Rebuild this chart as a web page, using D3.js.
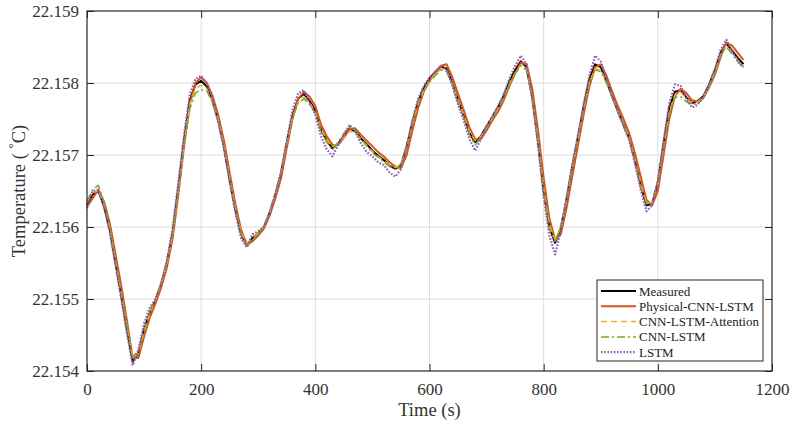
<!DOCTYPE html>
<html>
<head>
<meta charset="utf-8">
<script src="https://cdn.jsdelivr.net/npm/d3@7"></script>
<style>
  body { margin: 0; background: #fff; }
  svg, svg text { font-family: "Liberation Serif", "Times New Roman", "DejaVu Serif", serif; }
</style>
</head>
<body>
<svg id="chart"></svg>
<script>
// time axis (s), one sample every 10 s
const time = d3.range(0, 1151, 10);

const measured = [
  22.15631, 22.15645, 22.15650, 22.15628, 22.15596, 22.15550, 22.15505, 22.15458, 22.15413, 22.15425,
  22.15458, 22.15481, 22.15498, 22.15520, 22.15550, 22.15592, 22.15655, 22.15720, 22.15776, 22.15798,
  22.15803, 22.15795, 22.15775, 22.15748, 22.15711, 22.15665, 22.15624, 22.15590, 22.15575, 22.15585,
  22.15591, 22.15600, 22.15620, 22.15645, 22.15675, 22.15717, 22.15755, 22.15778, 22.15785, 22.15775,
  22.15762, 22.15735, 22.15720, 22.15709, 22.15716, 22.15726, 22.15737, 22.15733, 22.15723, 22.15715,
  22.15706, 22.15699, 22.15693, 22.15685, 22.15681, 22.15685, 22.15712, 22.15745, 22.15774, 22.15793,
  22.15806, 22.15815, 22.15823, 22.15820, 22.15800, 22.15776, 22.15754, 22.15730, 22.15718, 22.15726,
  22.15740, 22.15752, 22.15766, 22.15782, 22.15802, 22.15818, 22.15830, 22.15822, 22.15780, 22.15720,
  22.15650, 22.15600, 22.15578, 22.15598, 22.15638, 22.15683, 22.15724, 22.15767, 22.15805, 22.15826,
  22.15822, 22.15803, 22.15781, 22.15761, 22.15742, 22.15723, 22.15692, 22.15658, 22.15630, 22.15632,
  22.15662, 22.15715, 22.15765, 22.15788, 22.15790, 22.15780, 22.15772, 22.15775, 22.15782, 22.15798,
  22.15818, 22.15842, 22.15855, 22.15845, 22.15835, 22.15826
];

const physicalCnnLstm = [
  22.15628, 22.15640, 22.15652, 22.15635, 22.15605, 22.15562, 22.15518, 22.15470, 22.15418, 22.15418,
  22.15448, 22.15474, 22.15494, 22.15516, 22.15544, 22.15584, 22.15645, 22.15712, 22.15770, 22.15800,
  22.15808, 22.15800, 22.15782, 22.15755, 22.15720, 22.15675, 22.15632, 22.15596, 22.15576, 22.15580,
  22.15588, 22.15598, 22.15616, 22.15640, 22.15668, 22.15710, 22.15750, 22.15778, 22.15788, 22.15781,
  22.15768, 22.15742, 22.15726, 22.15714, 22.15714, 22.15724, 22.15736, 22.15737, 22.15728, 22.15720,
  22.15712, 22.15704, 22.15698, 22.15690, 22.15684, 22.15682, 22.15700, 22.15734, 22.15765, 22.15788,
  22.15803, 22.15814, 22.15824, 22.15826, 22.15808, 22.15785, 22.15762, 22.15738, 22.15722, 22.15722,
  22.15734, 22.15748, 22.15760, 22.15776, 22.15796, 22.15813, 22.15828, 22.15826, 22.15792, 22.15735,
  22.15668, 22.15612, 22.15582, 22.15590, 22.15626, 22.15670, 22.15713, 22.15756, 22.15795, 22.15822,
  22.15826, 22.15810, 22.15788, 22.15768, 22.15750, 22.15730, 22.15702, 22.15670, 22.15638, 22.15630,
  22.15650, 22.15700, 22.15750, 22.15782, 22.15792, 22.15786, 22.15776, 22.15774, 22.15780, 22.15794,
  22.15812, 22.15836, 22.15856, 22.15852, 22.15842, 22.15832
];

const cnnLstmAttention = [
  22.15634, 22.15648, 22.15650, 22.15630, 22.15598, 22.15553, 22.15508, 22.15462, 22.15418, 22.15424,
  22.15455, 22.15480, 22.15499, 22.15521, 22.15549, 22.15590, 22.15652, 22.15716, 22.15770, 22.15792,
  22.15797, 22.15792, 22.15774, 22.15749, 22.15713, 22.15668, 22.15626, 22.15592, 22.15578, 22.15584,
  22.15592, 22.15601, 22.15621, 22.15646, 22.15676, 22.15716, 22.15752, 22.15774, 22.15780, 22.15773,
  22.15760, 22.15736, 22.15721, 22.15712, 22.15716, 22.15725, 22.15733, 22.15731, 22.15722, 22.15714,
  22.15705, 22.15698, 22.15692, 22.15686, 22.15683, 22.15686, 22.15710, 22.15743, 22.15772, 22.15790,
  22.15803, 22.15812, 22.15819, 22.15817, 22.15799, 22.15776, 22.15755, 22.15731, 22.15720, 22.15726,
  22.15739, 22.15751, 22.15765, 22.15780, 22.15799, 22.15814, 22.15825, 22.15819, 22.15780, 22.15722,
  22.15654, 22.15603, 22.15582, 22.15599, 22.15637, 22.15681, 22.15722, 22.15764, 22.15800, 22.15820,
  22.15818, 22.15802, 22.15781, 22.15761, 22.15743, 22.15724, 22.15694, 22.15660, 22.15634, 22.15634,
  22.15660, 22.15712, 22.15760, 22.15784, 22.15787, 22.15779, 22.15772, 22.15774, 22.15781, 22.15797,
  22.15816, 22.15840, 22.15852, 22.15843, 22.15832, 22.15823
];

const cnnLstm = [
  22.15636, 22.15652, 22.15658, 22.15633, 22.15600, 22.15552, 22.15506, 22.15462, 22.15420, 22.15428,
  22.15456, 22.15483, 22.15500, 22.15523, 22.15552, 22.15590, 22.15650, 22.15712, 22.15764, 22.15786,
  22.15791, 22.15789, 22.15772, 22.15746, 22.15710, 22.15666, 22.15625, 22.15590, 22.15573, 22.15582,
  22.15590, 22.15602, 22.15622, 22.15648, 22.15678, 22.15718, 22.15752, 22.15772, 22.15778, 22.15770,
  22.15758, 22.15733, 22.15718, 22.15707, 22.15718, 22.15730, 22.15740, 22.15734, 22.15722, 22.15712,
  22.15703, 22.15697, 22.15690, 22.15684, 22.15680, 22.15688, 22.15714, 22.15746, 22.15774, 22.15790,
  22.15801, 22.15810, 22.15818, 22.15816, 22.15798, 22.15774, 22.15752, 22.15728, 22.15714, 22.15724,
  22.15738, 22.15750, 22.15764, 22.15779, 22.15798, 22.15813, 22.15824, 22.15818, 22.15778, 22.15718,
  22.15648, 22.15598, 22.15580, 22.15601, 22.15640, 22.15684, 22.15724, 22.15765, 22.15801, 22.15818,
  22.15816, 22.15800, 22.15780, 22.15760, 22.15742, 22.15722, 22.15690, 22.15656, 22.15632, 22.15636,
  22.15664, 22.15712, 22.15758, 22.15780, 22.15781, 22.15774, 22.15770, 22.15772, 22.15779, 22.15795,
  22.15814, 22.15838, 22.15850, 22.15840, 22.15830, 22.15821
];

const lstm = [
  22.15626, 22.15650, 22.15652, 22.15628, 22.15592, 22.15546, 22.15500, 22.15452, 22.15408, 22.15430,
  22.15466, 22.15488, 22.15500, 22.15522, 22.15554, 22.15598, 22.15662, 22.15728, 22.15784, 22.15806,
  22.15810, 22.15798, 22.15776, 22.15746, 22.15708, 22.15662, 22.15620, 22.15584, 22.15572, 22.15590,
  22.15594, 22.15600, 22.15618, 22.15644, 22.15676, 22.15720, 22.15762, 22.15786, 22.15790, 22.15772,
  22.15756, 22.15726, 22.15708, 22.15698, 22.15714, 22.15728, 22.15742, 22.15732, 22.15716, 22.15704,
  22.15698, 22.15690, 22.15686, 22.15676, 22.15670, 22.15680, 22.15712, 22.15748, 22.15778, 22.15796,
  22.15808, 22.15816, 22.15824, 22.15818, 22.15796, 22.15770, 22.15748, 22.15722, 22.15706, 22.15722,
  22.15740, 22.15754, 22.15768, 22.15784, 22.15806, 22.15824, 22.15838, 22.15826, 22.15778, 22.15714,
  22.15642, 22.15588, 22.15562, 22.15594, 22.15640, 22.15686, 22.15728, 22.15770, 22.15810, 22.15838,
  22.15830, 22.15806, 22.15782, 22.15760, 22.15740, 22.15720, 22.15688, 22.15652, 22.15622, 22.15630,
  22.15664, 22.15720, 22.15772, 22.15798, 22.15796, 22.15778, 22.15766, 22.15770, 22.15780, 22.15798,
  22.15820, 22.15846, 22.15860, 22.15844, 22.15830, 22.15822
];

const seriesNames = ["Measured", "Physical-CNN-LSTM", "CNN-LSTM-Attention", "CNN-LSTM", "LSTM"];
const xTicks = [0, 200, 400, 600, 800, 1000, 1200];
const yTicks = [22.154, 22.155, 22.156, 22.157, 22.158, 22.159];

const width = 794, height = 426,
  margin = {top: 11, right: 22, bottom: 55, left: 87};
const innerW = width - margin.left - margin.right,
  innerH = height - margin.top - margin.bottom;
const serif = "'Liberation Serif', 'Times New Roman', 'DejaVu Serif', serif";

const series = [
  {name: seriesNames[0], values: measured, color: "#000000", width: 2, dash: null},
  {name: seriesNames[1], values: physicalCnnLstm, color: "#D95319", width: 2, dash: null},
  {name: seriesNames[2], values: cnnLstmAttention, color: "#EDB120", width: 1.5, dash: "6,4"},
  {name: seriesNames[3], values: cnnLstm, color: "#77AC30", width: 1.5, dash: "8,3,2,3"},
  {name: seriesNames[4], values: lstm, color: "#8E5BC2", width: 2.2, dash: "1.6,1.6"}
];

const svg = d3.select("#chart").attr("width", width).attr("height", height)
  .attr("font-family", serif);
const g = svg.append("g").attr("transform", `translate(${margin.left},${margin.top})`);

const x = d3.scaleLinear().domain([0, 1200]).range([0, innerW]);
const y = d3.scaleLinear().domain([22.154, 22.159]).range([innerH, 0]);

// grid
g.append("g").selectAll("line").data(xTicks.slice(1, -1)).enter().append("line")
  .attr("x1", d => x(d)).attr("x2", d => x(d)).attr("y1", 0).attr("y2", innerH)
  .attr("stroke", "#dedede").attr("stroke-width", 1);
g.append("g").selectAll("line").data(yTicks.slice(1, -1)).enter().append("line")
  .attr("y1", d => y(d)).attr("y2", d => y(d)).attr("x1", 0).attr("x2", innerW)
  .attr("stroke", "#dedede").attr("stroke-width", 1);

// lines
const line = d3.line().x((d, i) => x(time[i])).y(d => y(d));
series.forEach(s => {
  g.append("path")
    .datum(s.values)
    .attr("fill", "none")
    .attr("stroke", s.color)
    .attr("stroke-width", s.width)
    .attr("stroke-dasharray", s.dash)
    .attr("stroke-linejoin", "round")
    .attr("d", line);
});

// axes, ticks pointing inward on all four sides
const axisColor = "#262626";
const fmtY = d3.format(".3f");
const fmtX = d3.format("d");
g.append("g").attr("class", "ax").attr("transform", `translate(0,${innerH})`)
  .call(d3.axisBottom(x).tickValues(xTicks).tickFormat(fmtX).tickSizeInner(-7).tickSizeOuter(0).tickPadding(12));
g.append("g").attr("class", "ax")
  .call(d3.axisLeft(y).tickValues(yTicks).tickFormat(fmtY).tickSizeInner(-7).tickSizeOuter(0).tickPadding(8));
g.append("g").attr("class", "ax")
  .call(d3.axisTop(x).tickValues(xTicks).tickSizeInner(-7).tickSizeOuter(0).tickFormat(""));
g.append("g").attr("class", "ax").attr("transform", `translate(${innerW},0)`)
  .call(d3.axisRight(y).tickValues(yTicks).tickSizeInner(-7).tickSizeOuter(0).tickFormat(""));
g.selectAll(".ax").attr("font-family", serif).attr("font-size", 17);
g.selectAll(".domain").remove();
g.selectAll(".tick line").attr("stroke", axisColor).attr("stroke-width", 1);
g.selectAll(".tick text").attr("fill", "#333");

g.append("rect").attr("width", innerW).attr("height", innerH)
  .attr("fill", "none").attr("stroke", axisColor).attr("stroke-width", 1.2);

// axis titles
svg.append("text")
  .attr("x", margin.left + innerW / 2).attr("y", 416)
  .attr("text-anchor", "middle").attr("font-size", 18.5).attr("fill", "#333")
  .text("Time (s)");

const yl = svg.append("text")
  .attr("transform", `translate(25,${margin.top + innerH / 2}) rotate(-90)`)
  .attr("text-anchor", "middle").attr("font-size", 18.5).attr("fill", "#333");
yl.append("tspan").text("Temperature ( ");
yl.append("tspan").attr("font-size", 13).attr("dy", -8).text("°");
yl.append("tspan").attr("dy", 8).text("C)");

// legend
const lx = 597, ly = 280, lw = 166, lh = 81;
const leg = svg.append("g");
leg.append("rect").attr("x", lx).attr("y", ly).attr("width", lw).attr("height", lh)
  .attr("fill", "#fff").attr("stroke", axisColor).attr("stroke-width", 1);
series.forEach((s, i) => {
  const yy = ly + 11 + i * 15.3;
  leg.append("line").attr("x1", lx + 4).attr("x2", lx + 39).attr("y1", yy).attr("y2", yy)
    .attr("stroke", s.color).attr("stroke-width", s.width).attr("stroke-dasharray", s.dash);
  leg.append("text").attr("x", lx + 42).attr("y", yy).attr("dy", "0.35em")
    .attr("font-size", 13).attr("fill", "#222").text(s.name);
});
</script>
</body>
</html>
